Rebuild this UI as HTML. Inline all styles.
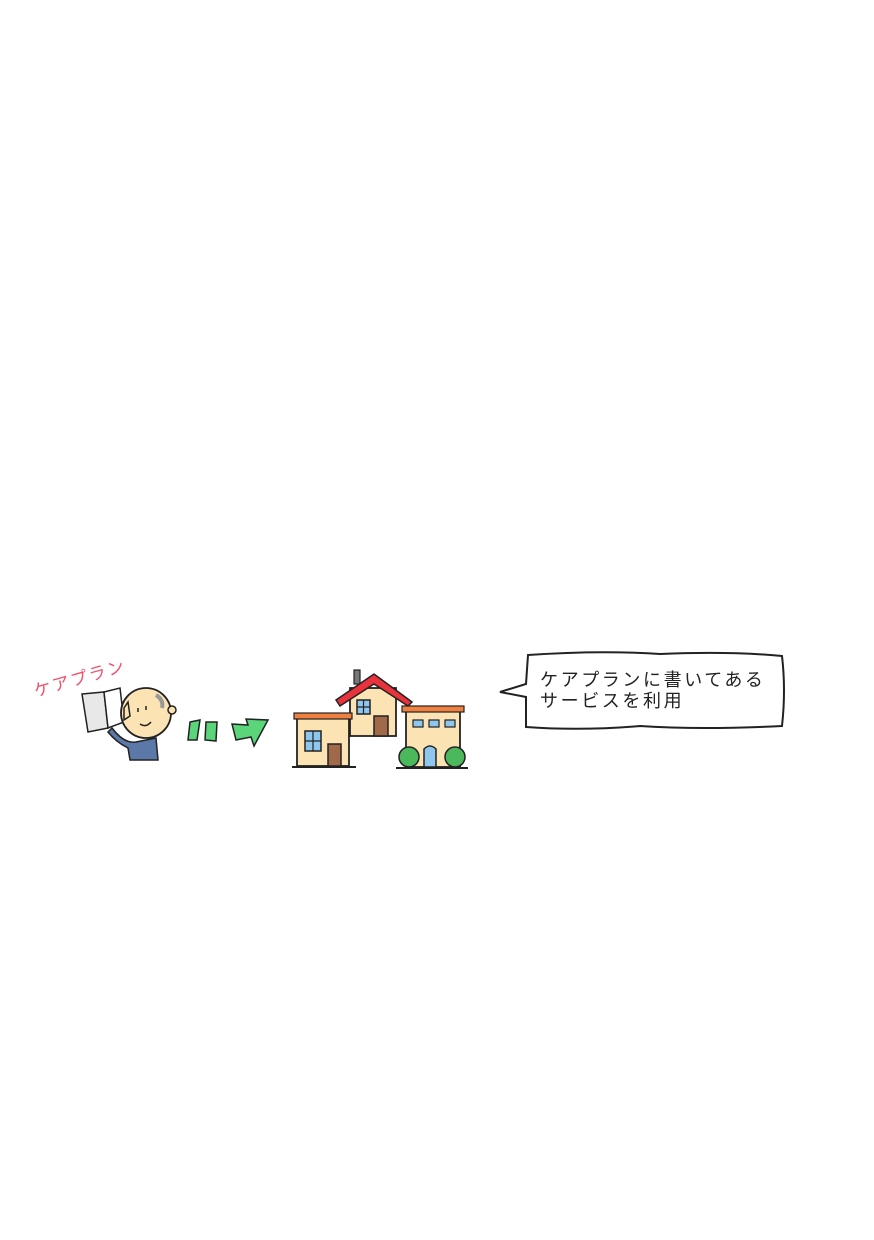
<!DOCTYPE html>
<html><head><meta charset="utf-8"><style>
html,body{margin:0;padding:0;background:#fff}
svg{display:block}
</style></head><body>
<svg width="874" height="1240" viewBox="0 0 874 1240" xmlns="http://www.w3.org/2000/svg">
<rect width="874" height="1240" fill="#fff"/>
<!-- label -->
<text x="36" y="697" transform="rotate(-16 36 697)" font-family="Liberation Sans,'Noto Sans CJK JP',sans-serif" font-size="17" fill="#f0506a" letter-spacing="2">ケアプラン</text>
<!-- book -->
<path d="M82 694 L104 692 L108 728 L88 732 Z" fill="#e8e8e8" stroke="#222" stroke-width="1.5"/>
<path d="M104 692 L120 688 L124 722 L108 728 Z" fill="#fff" stroke="#222" stroke-width="1.5"/>
<!-- body -->
<path d="M112 728 Q124 744 136 742 L156 738 L158 760 L130 760 L128 748 Q116 742 108 732 Z" fill="#5b78a8" stroke="#222" stroke-width="1.5"/>
<!-- head -->
<ellipse cx="146" cy="713" rx="25" ry="25" fill="#fbe3b4" stroke="#222" stroke-width="1.8"/>
<path d="M156 695 Q164 700 162 708" stroke="#999" stroke-width="4" fill="none"/>
<circle cx="172" cy="710" r="4" fill="#fbe3b4" stroke="#222" stroke-width="1.5"/>
<path d="M138 708 l0 4 M146 706 l0 4 M140 724 Q146 728 151 722" stroke="#222" stroke-width="1.5" fill="none"/>
<path d="M124 708 L128 702 L130 716 L124 720 Z" fill="#fbe3b4" stroke="#222" stroke-width="1.5"/>
<!-- green marks -->
<path d="M190 722 L200 720 L197 740 L188 740 Z" fill="#5ad57a" stroke="#222" stroke-width="1.5"/>
<path d="M206 722 L217 722 L216 741 L205 740 Z" fill="#5ad57a" stroke="#222" stroke-width="1.5"/>
<path d="M232 724 L248 725 L246 719 L268 720 L254 746 L251 737 L236 740 Z" fill="#5ad57a" stroke="#222" stroke-width="1.5"/>
<!-- middle house -->
<rect x="354" y="670" width="6" height="14" fill="#777" stroke="#222" stroke-width="1.2"/>
<rect x="350" y="688" width="46" height="48" fill="#fbe3b4" stroke="#222" stroke-width="1.8"/>
<path d="M336 700 L374 674 L412 702 L408 706 L374 684 L340 706 Z" fill="#e8323c" stroke="#222" stroke-width="1.5"/>
<rect x="357" y="700" width="13" height="14" fill="#8ec6ee" stroke="#222" stroke-width="1.5"/>
<path d="M363.5 700 v14 M357 707 h13" stroke="#222" stroke-width="1.2"/>
<rect x="374" y="716" width="14" height="20" fill="#a06a4a" stroke="#222" stroke-width="1.5"/>
<!-- left house -->
<rect x="297" y="718" width="52" height="48" fill="#fbe3b4" stroke="#222" stroke-width="1.8"/>
<rect x="294" y="713" width="58" height="6" fill="#f08040" stroke="#222" stroke-width="1.2"/>
<rect x="305" y="731" width="16" height="20" fill="#8ec6ee" stroke="#222" stroke-width="1.5"/>
<path d="M313 731 v20 M305 741 h16" stroke="#222" stroke-width="1.2"/>
<rect x="328" y="744" width="13" height="22" fill="#a06a4a" stroke="#222" stroke-width="1.5"/>
<path d="M292 767 h64" stroke="#222" stroke-width="2"/>
<!-- right house -->
<rect x="406" y="711" width="54" height="56" fill="#fbe3b4" stroke="#222" stroke-width="1.8"/>
<rect x="402" y="706" width="62" height="6" fill="#f08040" stroke="#222" stroke-width="1.2"/>
<rect x="413" y="720" width="10" height="7" fill="#8ec6ee" stroke="#222" stroke-width="1.2"/>
<rect x="429" y="720" width="10" height="7" fill="#8ec6ee" stroke="#222" stroke-width="1.2"/>
<rect x="445" y="720" width="10" height="7" fill="#8ec6ee" stroke="#222" stroke-width="1.2"/>
<path d="M424 767 v-18 q6 -6 12 0 v18 Z" fill="#8ec6ee" stroke="#222" stroke-width="1.5"/>
<circle cx="409" cy="757" r="10" fill="#4cb85c" stroke="#222" stroke-width="1.5"/>
<circle cx="455" cy="757" r="10" fill="#4cb85c" stroke="#222" stroke-width="1.5"/>
<path d="M396 768 h72" stroke="#222" stroke-width="2"/>
<!-- bubble -->
<path d="M528 655 Q600 650 660 654 Q730 651 782 656 Q786 690 782 726 Q700 730 640 726 Q580 731 526 727 L526 697 L500 692 L526 684 Z" fill="#fff" stroke="#222" stroke-width="2"/>
<text x="540" y="686" font-family="Liberation Sans,'Noto Sans CJK JP',sans-serif" font-size="18" fill="#222" letter-spacing="2.6">ケアプランに書いてある</text>
<text x="540" y="707" font-family="Liberation Sans,'Noto Sans CJK JP',sans-serif" font-size="18" fill="#222" letter-spacing="2.6">サービスを利用</text>
</svg>
</body></html>
